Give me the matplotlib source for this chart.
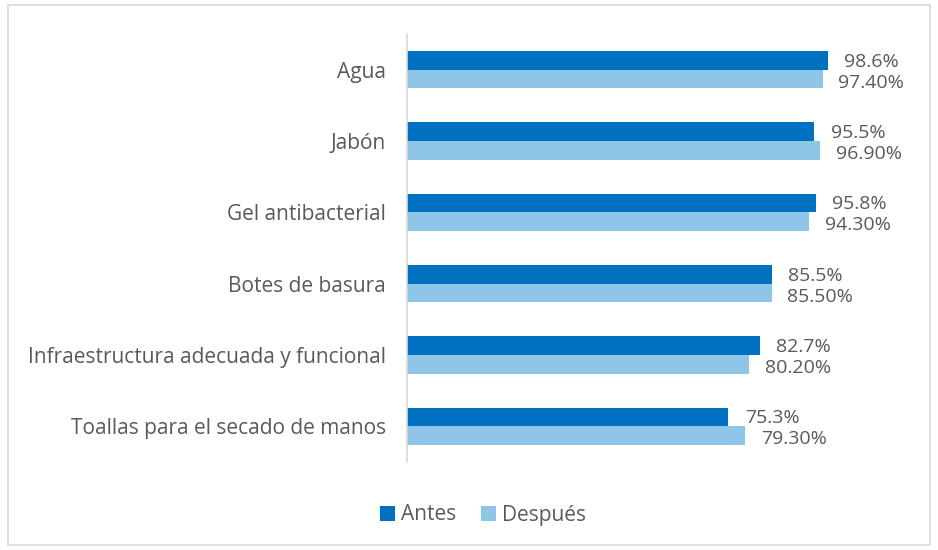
import numpy as np
import matplotlib.pyplot as plt
from matplotlib.patches import Rectangle

categorias = ['Agua', 'Jabón', 'Gel antibacterial', 'Botes de basura',
              'Infraestructura adecuada y funcional', 'Toallas para el secado de manos']
antes = [98.6, 95.5, 95.8, 85.5, 82.7, 75.3]
despues = [97.4, 96.9, 94.3, 85.5, 80.2, 79.3]
etiquetas_antes = ['98.6%', '95.5%', '95.8%', '85.5%', '82.7%', '75.3%']
etiquetas_despues = ['97.40%', '96.90%', '94.30%', '85.50%', '80.20%', '79.30%']

plt.rcParams['font.family'] = ['Open Sans', 'DejaVu Sans']
gris = '#595959'

fig = plt.figure(figsize=(9.38, 5.5), dpi=100)
ax = fig.add_axes([407 / 938, 1 - 462 / 550, 512 / 938, 428 / 550])

y = np.arange(len(categorias))
h = 0.26
ax.barh(y - h / 2, antes, height=h, color='#0070C0', label='Antes')
ax.barh(y + h / 2, despues, height=h, color='#8FC6E8', label='Después')

for i in range(len(categorias)):
    ax.text(antes[i] + 3.9, y[i] - h / 2 + 0.02, etiquetas_antes[i], va='center', ha='left',
            color=gris, fontsize=14)
    ax.text(despues[i] + 3.6, y[i] + h / 2 + 0.05, etiquetas_despues[i], va='center', ha='left',
            color=gris, fontsize=14)

ax.set_xlim(0, 120)
ax.set_ylim(len(categorias) - 0.5, -0.5)
ax.set_yticks(y)
ax.set_yticklabels(categorias, fontsize=15, color=gris)
ax.tick_params(axis='y', length=0, pad=15)
ax.set_xticks([])
for s in ['top', 'right', 'bottom']:
    ax.spines[s].set_visible(False)
ax.spines['left'].set_color('#D9D9D9')
ax.spines['left'].set_linewidth(1.2)

fig.legend(loc='center', bbox_to_anchor=(483 / 938, 1 - 515 / 550), ncol=2, frameon=False,
           fontsize=15, labelcolor=gris, handlelength=0.7, handleheight=0.7,
           handletextpad=0.3, columnspacing=1.2)

fig.patches.append(Rectangle((8 / 938, 5 / 550), 922 / 938, 540 / 550, transform=fig.transFigure,
                             fill=False, edgecolor='#D9D9D9', linewidth=1.2))

fig.savefig('out.png', dpi=100)
